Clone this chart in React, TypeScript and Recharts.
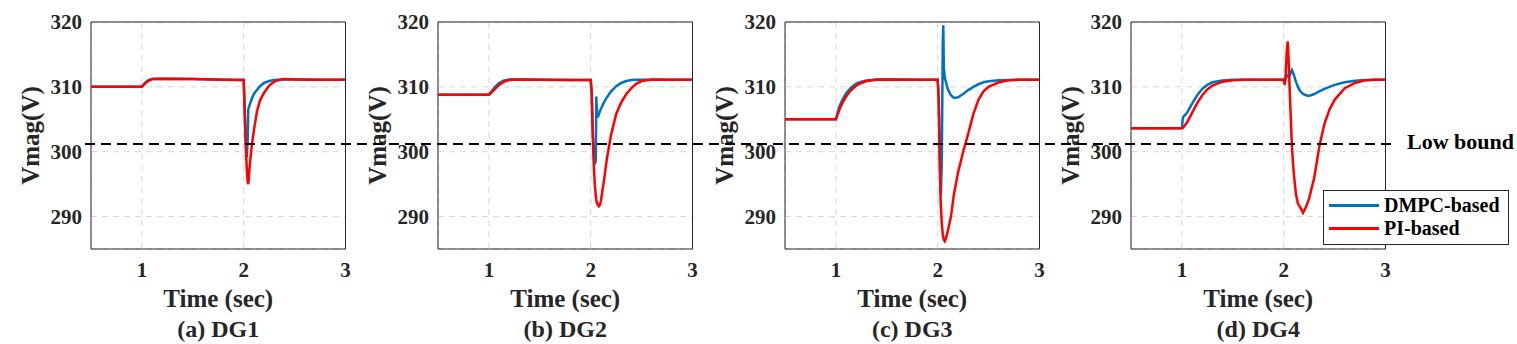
import {
  CartesianGrid,
  Label,
  Legend,
  Line,
  LineChart,
  ReferenceArea,
  ReferenceLine,
  XAxis,
  YAxis,
} from "recharts";

const seriesNames = ["DMPC-based", "PI-based"];
const seriesColors = ["#0072BD", "#FF0000"];
const panelTitles = ["(a) DG1", "(b) DG2", "(c) DG3", "(d) DG4"];
const xTicks = [1, 2, 3];
const yTicks = [290, 300, 310, 320];
const lowBound = 301.2;

// DG1
const dg1Time = [0.5, 1.0, 1.03, 1.06, 1.1, 1.2, 1.5, 1.8, 2.0, 2.01, 2.02, 2.03, 2.04, 2.045, 2.05, 2.06, 2.08, 2.1, 2.13, 2.16, 2.2, 2.25, 2.3, 2.35, 2.4, 2.5, 2.7, 3.0];
const dg1Dmpc = [310, 310, 310.6, 311, 311.2, 311.25, 311.2, 311.1, 311.05, 306.5, 301.5, 299.2, 302, 306.5, 306.8, 307.3, 308.2, 308.9, 309.5, 310.1, 310.6, 310.9, 311.05, 311.1, 311.15, 311.15, 311.1, 311.1];
const dg1Pi = [310, 310, 310.5, 310.9, 311.2, 311.25, 311.2, 311.1, 311.05, 306, 301, 297.5, 295.2, 295, 295.8, 298, 301, 303.3, 306.2, 307.9, 309.1, 310.2, 310.8, 311.1, 311.2, 311.15, 311.1, 311.1];

// DG2
const dg2Time = [0.5, 1.0, 1.03, 1.06, 1.1, 1.15, 1.2, 1.3, 1.5, 1.8, 2.0, 2.01, 2.02, 2.03, 2.04, 2.05, 2.055, 2.06, 2.07, 2.08, 2.09, 2.1, 2.13, 2.16, 2.2, 2.25, 2.3, 2.35, 2.4, 2.45, 2.5, 2.6, 2.8, 3.0];
const dg2Dmpc = [308.8, 308.8, 309.4, 310, 310.6, 311, 311.15, 311.15, 311.1, 311.05, 311.05, 309, 303, 299.5, 298.2, 298.5, 308.5, 306.5, 305.3, 305.8, 306.2, 306.6, 307.6, 308.4, 309.3, 310.1, 310.6, 310.9, 311.05, 311.1, 311.1, 311.1, 311.1, 311.1];
const dg2Pi = [308.8, 308.8, 309.2, 309.7, 310.3, 310.8, 311.05, 311.15, 311.1, 311.05, 311.05, 309, 303, 298, 295, 293.2, 292.6, 292.2, 291.8, 291.6, 291.8, 292.4, 295.5, 299, 302.6, 305.8, 307.6, 308.9, 309.8, 310.5, 310.9, 311.15, 311.1, 311.1];

// DG3
const dg3Time = [0.5, 1.0, 1.03, 1.06, 1.1, 1.15, 1.2, 1.25, 1.3, 1.4, 1.5, 1.8, 2.0, 2.01, 2.02, 2.03, 2.04, 2.05, 2.055, 2.06, 2.07, 2.08, 2.1, 2.13, 2.16, 2.2, 2.25, 2.3, 2.35, 2.4, 2.45, 2.5, 2.6, 2.7, 2.8, 3.0];
const dg3Dmpc = [305, 305, 306.8, 307.9, 309, 309.9, 310.5, 310.8, 311, 311.15, 311.15, 311.1, 311.1, 308, 300, 293.3, 298, 317, 319.5, 313, 311.3, 310.8, 309.6, 308.7, 308.3, 308.4, 308.9, 309.5, 310, 310.4, 310.7, 310.85, 311, 311.05, 311.1, 311.1];
const dg3Pi = [305, 305, 306.3, 307.4, 308.5, 309.5, 310.2, 310.6, 310.9, 311.1, 311.15, 311.1, 311.1, 308, 298, 292, 289, 287.2, 286.8, 286.4, 286.2, 286.6, 287.8, 290, 293.5, 296.8, 300, 302.8, 305.8, 308, 309.3, 310, 310.7, 311, 311.1, 311.1];

// DG4
const dg4Time = [0.5, 0.99, 1.0, 1.01, 1.05, 1.1, 1.15, 1.2, 1.25, 1.3, 1.4, 1.5, 1.6, 1.8, 2.0, 2.01, 2.02, 2.03, 2.04, 2.05, 2.06, 2.07, 2.08, 2.09, 2.1, 2.12, 2.14, 2.16, 2.19, 2.22, 2.25, 2.3, 2.35, 2.4, 2.45, 2.5, 2.6, 2.7, 2.8, 2.9, 3.0];
const dg4Dmpc = [303.6, 303.6, 303.8, 305.3, 306, 307.4, 308.7, 309.7, 310.3, 310.7, 311, 311.1, 311.1, 311.1, 311.1, 310.8, 311.3, 311.8, 311.6, 311.5, 311.8, 312.2, 312.6, 312.3, 311.8, 310.8, 310, 309.4, 308.9, 308.7, 308.6, 308.9, 309.3, 309.7, 310, 310.3, 310.7, 310.95, 311.05, 311.1, 311.1];
const dg4Pi = [303.6, 303.6, 303.6, 303.7, 304.5, 306, 307.5, 308.7, 309.6, 310.2, 310.8, 311, 311.1, 311.1, 311.1, 310.3, 312, 315.5, 317, 313.5, 309, 305, 301.2, 298.5, 296.5, 293.5, 292, 291.5, 290.6, 291.5, 292.8, 296, 300.8, 304.3, 306.5, 308, 309.8, 310.6, 311, 311.1, 311.1];

const panels = [
  { time: dg1Time, dmpc: dg1Dmpc, pi: dg1Pi },
  { time: dg2Time, dmpc: dg2Dmpc, pi: dg2Pi },
  { time: dg3Time, dmpc: dg3Dmpc, pi: dg3Pi },
  { time: dg4Time, dmpc: dg4Dmpc, pi: dg4Pi },
];

const FONT = "'Liberation Serif', 'Times New Roman', serif";
const TEXT = "#262626";
const PLOT_LEFT = 91;
const PLOT_WIDTH = 254.5;
const PANEL_STEP = 346.8;

function LegendBox(props: any) {
  const payload = props.payload ?? [];
  return (
    <div
      style={{
        boxSizing: "border-box",
        width: 186,
        height: 55,
        border: "1px solid #262626",
        background: "#fff",
        padding: "3px 0 0 5px",
        fontFamily: FONT,
        fontWeight: "bold",
        fontSize: 20,
        color: "#000",
      }}
    >
      {payload.map((entry: any) => (
        <div
          key={entry.value}
          style={{ display: "flex", alignItems: "center", height: 23 }}
        >
          <span
            style={{
              display: "inline-block",
              width: 50,
              height: 3,
              background: entry.color,
              marginRight: 5,
            }}
          />
          <span>{entry.value}</span>
        </div>
      ))}
    </div>
  );
}

function Panel({ index }: { index: number }) {
  const { time, dmpc, pi } = panels[index];
  const data = time.map((t, i) => ({ t, dmpc: dmpc[i], pi: pi[i] }));
  const showLegend = index === 3;
  const chartWidth = showLegend ? 480 : 360;
  const left = PLOT_LEFT - 70;
  const right = chartWidth - left - 70 - PLOT_WIDTH;
  const tickStyle = {
    fontSize: 21,
    fontWeight: "bold",
    fontFamily: FONT,
    fill: TEXT,
  };

  return (
    <div style={{ position: "absolute", left: PANEL_STEP * index, top: 0 }}>
      <LineChart
        width={chartWidth}
        height={344}
        data={data}
        margin={{ top: 22, right, bottom: 0, left }}
      >
        <CartesianGrid stroke="#d6d6d6" strokeDasharray="6 5" />
        <XAxis
          dataKey="t"
          type="number"
          domain={[0.5, 3]}
          ticks={xTicks}
          allowDataOverflow
          height={95}
          tickLine={false}
          axisLine={false}
          tickSize={6}
          tickMargin={7}
          tick={tickStyle}
        >
          <Label
            value="Time (sec)"
            position="insideTop"
            offset={40}
            fontSize={25}
            fontWeight="bold"
            fontFamily={FONT}
            fill={TEXT}
          />
          <Label
            value={panelTitles[index]}
            position="insideTop"
            offset={71}
            fontSize={24}
            fontWeight="bold"
            fontFamily={FONT}
            fill={TEXT}
          />
        </XAxis>
        <YAxis
          type="number"
          domain={[285, 320]}
          ticks={yTicks}
          allowDataOverflow
          width={70}
          tickLine={false}
          axisLine={false}
          tickSize={6}
          tickMargin={3}
          tick={tickStyle}
        >
          <Label
            value="Vmag(V)"
            angle={-90}
            position="insideLeft"
            offset={9}
            fontSize={25}
            fontWeight="bold"
            fontFamily={FONT}
            fill={TEXT}
            style={{ textAnchor: "middle" }}
          />
        </YAxis>
        <ReferenceArea
          x1={0.5}
          x2={3}
          y1={285}
          y2={320}
          fill="none"
          stroke="#262626"
          strokeWidth={1}
        />
        <Line
          type="linear"
          dataKey="dmpc"
          name={seriesNames[0]}
          stroke={seriesColors[0]}
          strokeWidth={2.5}
          dot={false}
          isAnimationActive={false}
        />
        <Line
          type="linear"
          dataKey="pi"
          name={seriesNames[1]}
          stroke={seriesColors[1]}
          strokeWidth={2.5}
          dot={false}
          isAnimationActive={false}
        />
        {showLegend && (
          <Legend
            layout="vertical"
            align="center"
            verticalAlign="middle"
            wrapperStyle={{ left: 1323 - PANEL_STEP * 3, top: 190, width: 186, height: 55 }}
            content={LegendBox}
          />
        )}
      </LineChart>
    </div>
  );
}

export default function App() {
  // the low-bound overlay shares the panels' y scale and spans all four panels
  const boundData = dg1Time.map((t) => ({ t }));
  return (
    <div
      style={{
        position: "absolute",
        left: 0,
        top: 0,
        width: 1517,
        height: 344,
        background: "#fff",
      }}
    >
      {panels.map((_, i) => (
        <Panel key={i} index={i} />
      ))}
      <div style={{ position: "absolute", left: 0, top: 0, pointerEvents: "none" }}>
        <LineChart
          width={1517}
          height={344}
          data={boundData}
          margin={{ top: 22, right: 125, bottom: 95, left: 85 }}
        >
          <XAxis dataKey="t" type="number" domain={[0.5, 3]} allowDataOverflow hide />
          <YAxis type="number" domain={[285, 320]} allowDataOverflow hide />
          <ReferenceLine
            y={lowBound}
            stroke="#000"
            strokeWidth={2}
            strokeDasharray="10 6"
            label={{
              value: "Low bound",
              position: "right",
              offset: 15,
              dy: -3,
              fontSize: 22,
              fontWeight: "bold",
              fontFamily: FONT,
              fill: "#000",
            }}
          />
        </LineChart>
      </div>
    </div>
  );
}
